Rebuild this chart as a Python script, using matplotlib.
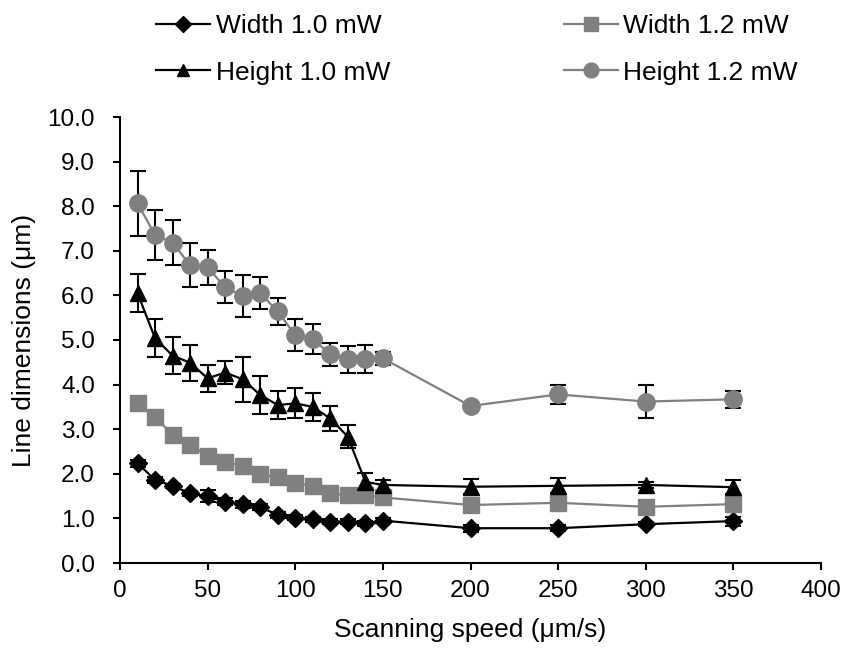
import matplotlib
matplotlib.use("Agg")
import matplotlib.pyplot as plt

plt.rcParams['font.family'] = ['Liberation Sans', 'DejaVu Sans']

speed = [10, 20, 30, 40, 50, 60, 70, 80, 90, 100, 110, 120, 130, 140, 150, 200, 250, 300, 350]

width_10 = [2.24, 1.86, 1.73, 1.56, 1.50, 1.37, 1.32, 1.25, 1.08, 1.02, 0.98, 0.93, 0.93, 0.89, 0.95, 0.78, 0.78, 0.87, 0.94]
width_10_err = [0.08, 0.06, 0.05, 0.06, 0.14, 0.08, 0.08, 0.07, 0.06, 0.05, 0.06, 0.05, 0.06, 0.05, 0.06, 0.08, 0.07, 0.04, 0.1]

width_12 = [3.58, 3.28, 2.87, 2.65, 2.40, 2.27, 2.17, 1.99, 1.92, 1.79, 1.73, 1.56, 1.52, 1.52, 1.47, 1.30, 1.35, 1.26, 1.32]
width_12_err = [0.1, 0.08, 0.08, 0.07, 0.07, 0.06, 0.06, 0.06, 0.06, 0.05, 0.05, 0.05, 0.05, 0.05, 0.05, 0.05, 0.05, 0.05, 0.05]

height_10 = [6.05, 5.04, 4.65, 4.49, 4.14, 4.27, 4.12, 3.77, 3.54, 3.58, 3.50, 3.24, 2.83, 1.82, 1.75, 1.71, 1.73, 1.75, 1.70]
height_10_err = [0.42, 0.42, 0.42, 0.40, 0.30, 0.25, 0.50, 0.43, 0.32, 0.34, 0.31, 0.28, 0.26, 0.19, 0.12, 0.17, 0.17, 0.06, 0.15]

height_12 = [8.07, 7.35, 7.18, 6.68, 6.63, 6.18, 5.99, 6.05, 5.64, 5.11, 5.02, 4.68, 4.57, 4.57, 4.59, 3.52, 3.78, 3.62, 3.67]
height_12_err = [0.73, 0.56, 0.50, 0.49, 0.39, 0.36, 0.47, 0.36, 0.31, 0.35, 0.34, 0.26, 0.30, 0.31, 0.15, 0.05, 0.21, 0.37, 0.19]

x_ticks = [0, 50, 100, 150, 200, 250, 300, 350, 400]
y_ticks = [0, 1, 2, 3, 4, 5, 6, 7, 8, 9, 10]

GRAY = '#808080'

fig = plt.figure(figsize=(8.48, 6.51), dpi=100)
ax = fig.add_axes([120/848, 1 - 563/651, (821-120)/848, (563-117)/651])

series = [
    ("Width 1.0 mW", width_10, width_10_err, 'black', 'D', 9),
    ("Width 1.2 mW", width_12, width_12_err, GRAY, 's', 12),
    ("Height 1.0 mW", height_10, height_10_err, 'black', '^', 11),
    ("Height 1.2 mW", height_12, height_12_err, GRAY, 'o', 12.5),
]

handles = []
for label, vals, err, col, mk, ms in series:
    ax.errorbar(speed, vals, yerr=err, fmt='none', ecolor='black', elinewidth=1.5,
                capsize=5.5, capthick=1.5, zorder=2)
    h, = ax.plot(speed, vals, color=col, lw=1.6, marker=mk, markersize=ms,
                 markerfacecolor=col, markeredgecolor=col, zorder=3, label=label)
    handles.append(h)

ax.set_xlim(0, 400)
ax.set_ylim(0, 10)
ax.set_xticks(x_ticks)
ax.set_yticks(y_ticks)
ax.set_yticklabels([f"{v:.1f}" for v in y_ticks])
ax.tick_params(axis='both', labelsize=17.5, direction='out', length=5, width=1.5, colors='black')
ax.tick_params(axis='x', pad=7)
ax.tick_params(axis='y', pad=13)
for s in ['top', 'right']:
    ax.spines[s].set_visible(False)
for s in ['left', 'bottom']:
    ax.spines[s].set_linewidth(1.5)
ax.set_xlabel("Scanning speed (μm/s)", fontsize=19, labelpad=12)
ax.set_ylabel("Line dimensions (μm)", fontsize=19, labelpad=8)

order = [handles[0], handles[2], handles[1], handles[3]]
leg = fig.legend(order, [h.get_label() for h in order], ncol=2, loc='upper left',
                 bbox_to_anchor=(143/848, 1 - 1/651), frameon=False, fontsize=19,
                 handlelength=2.05, handletextpad=0.2, columnspacing=6.6,
                 labelspacing=0.85, borderpad=0, markerscale=0.85)

fig.savefig("out.png", dpi=100)
